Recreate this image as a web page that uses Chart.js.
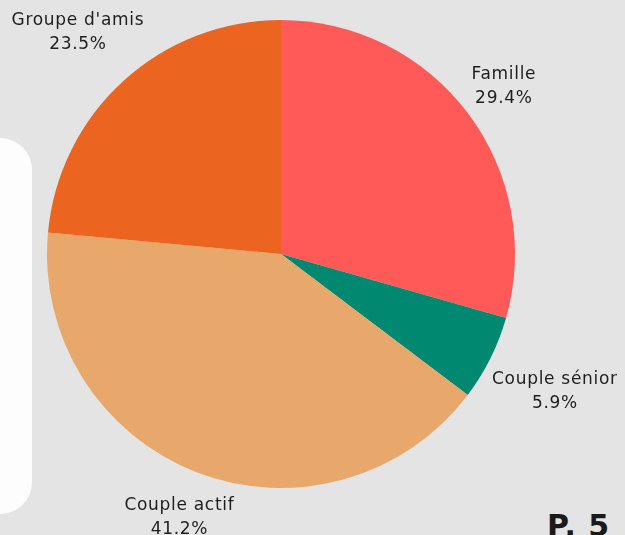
<!DOCTYPE html>
<html>
<head>
<meta charset="utf-8">
<script src="https://cdn.jsdelivr.net/npm/chart.js@4/dist/chart.umd.min.js"></script>
<style>
  html, body { margin: 0; padding: 0; }
  body { width: 625px; height: 535px; background: #e3e4e3; position: relative; overflow: hidden; }
  #panneau { position: absolute; left: -40px; top: 138px; width: 72px; height: 376px; background: #fdfdfd; border-radius: 32px; }
  #page { position: absolute; left: 547px; top: 508px; font: bold 30px "DejaVu Sans", sans-serif; color: #1a1a1a; letter-spacing: 1px; }
  #zone { position: absolute; left: 0; top: 0; width: 625px; height: 535px; }
</style>
</head>
<body>
<div id="panneau"></div>
<div id="page">P. 5</div>
<div id="zone"><canvas id="chartProfil"></canvas></div>
<script>
// Données
const categories = ['Famille', 'Couple sénior', 'Couple actif', "Groupe d'amis"];
const valeurs = [5, 1, 7, 4];
const cores = ['#ff5a57', '#008970', '#e9a86b', '#eb6420'];

// Étiquettes à l'extérieur des parts
const etiquettesExt = {
  id: 'etiquettesExt',
  afterDatasetsDraw(chart) {
    const ctx = chart.ctx;
    const total = valeurs.reduce((a, b) => a + b, 0);
    ctx.save();
    ctx.font = '17px "DejaVu Sans", sans-serif';
    ctx.letterSpacing = '0.7px';
    ctx.fillStyle = '#1e1e1e';
    ctx.textAlign = 'center';
    ctx.textBaseline = 'middle';
    chart.getDatasetMeta(0).data.forEach((arc, i) => {
      const ang = (arc.startAngle + arc.endAngle) / 2;
      const pct = (valeurs[i] / total * 100).toFixed(1) + '%';
      const w = Math.max(ctx.measureText(categories[i]).width, ctx.measureText(pct).width);
      const h = 48;
      const cx = Math.cos(ang), cy = Math.sin(ang);
      const d = arc.outerRadius + 5 + Math.abs(cx) * w / 2 + Math.abs(cy) * h / 2;
      const x = arc.x + cx * d, y = arc.y + cy * d + 1;
      ctx.fillText(categories[i], x, y - 12);
      ctx.fillText(pct, x, y + 12);
    });
    ctx.restore();
  }
};

new Chart(document.getElementById('chartProfil'), {
  type: 'pie',
  data: {
    labels: categories,
    datasets: [{
      data: valeurs,
      backgroundColor: cores,
      borderWidth: 0
    }]
  },
  options: {
    responsive: true,
    maintainAspectRatio: false,
    animation: false,
    layout: { padding: { top: 20, bottom: 47, left: 47, right: 110 } },
    plugins: {
      legend: { display: false },
      tooltip: { enabled: false }
    }
  },
  plugins: [etiquettesExt]
});
</script>
</body>
</html>
